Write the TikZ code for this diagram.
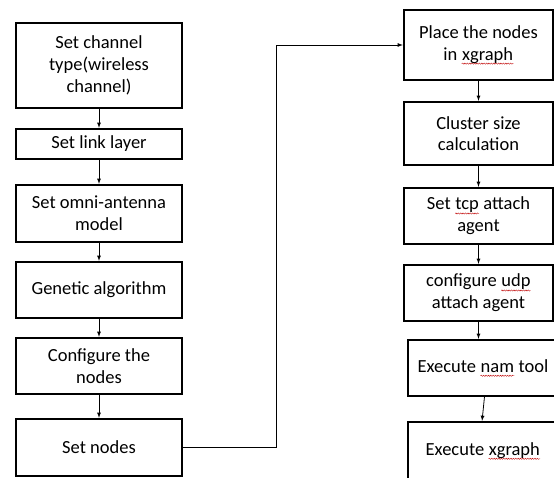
\documentclass[tikz,border=0pt]{standalone}
\usepackage{fontspec}
\setmainfont{Carlito}
\usepackage{xcolor}
\usepackage{tikz}
\usetikzlibrary{calc,decorations.pathmorphing}

% red wavy spell-check mark under a word
\newcommand{\spellmark}[1]{\tikz[baseline=(w.base), x=1pt, y=1pt]{%
		\node[draw=none, inner sep=0pt, minimum width=0pt, minimum height=0pt] (w) {#1};
		\draw[red!75!black, line width=0.4pt, decorate,
			decoration={snake, amplitude=0.6pt, segment length=2.4pt}]
			($(w.base west)+(0,-3.5)$) -- ($(w.base east)+(0,-3.5)$);}}

\begin{document}
\begin{tikzpicture}[
			x=1pt, y=-1pt, >=latex,
			box/.style={draw, line width=1.3pt, align=center, inner sep=0pt,
				font=\fontsize{18.5}{21.7}\selectfont},
			leftbox/.style={box, minimum width=166pt},
			rightbox/.style={box, minimum width=149pt},
			arrow/.style={->, line width=0.8pt, shorten >=0.5pt}
			]
			\useasboundingbox (0,0) rectangle (554,477);
			
			% left column
			\node[leftbox, minimum height=85pt] (chan)  at (99,65.5) {Set channel\\type(wireless\\channel)};
			\node[leftbox, minimum height=30pt] (link)  at (99,144)  {Set link layer};
			\node[leftbox, minimum height=57pt] (omni)  at (99,213.5) {Set omni-antenna\\model};
			\node[leftbox, minimum height=56pt] (gen)   at (99,290)  {Genetic algorithm};
			\node[leftbox, minimum height=56pt] (conf)  at (99,366)  {Configure the\\nodes};
			\node[leftbox, minimum height=57pt] (setn)  at (99,447.5) {Set nodes};
			
			% right column
			\node[rightbox, minimum height=70pt] (place) at (478.5,45)  {Place the nodes\\in \spellmark{xgraph}};
			\node[rightbox, minimum height=63pt] (clus)  at (478.5,133.5) {Cluster size\\calculation};
			\node[rightbox, minimum height=56pt] (tcp)   at (478.5,216)  {Set \spellmark{tcp} attach\\agent};
			\node[rightbox, minimum height=56pt] (udp)   at (478.5,293)  {configure \spellmark{udp}\\attach agent};
			\node[rightbox, minimum height=56pt, minimum width=150pt] (nam) at (483,368) {Execute \spellmark{nam} tool};
			\node[rightbox, minimum height=58pt, minimum width=150pt] (xgr) at (483,451) {Execute \spellmark{xgraph}};
			
			% arrows down the left column
			\draw[arrow] (chan) -- (link);
			\draw[arrow] (link) -- (omni);
			\draw[arrow] (omni) -- (gen);
			\draw[arrow] (gen)  -- (conf);
			\draw[arrow] (conf) -- (setn);
			
			% jump to the right column
			\draw[arrow] (setn.east) -- ++(94,0) |- (place.west);
			
			% arrows down the right column
			\draw[arrow] (place.south -| clus.north) -- (clus.north);
			\draw[arrow] (clus) -- (tcp);
			\draw[arrow] (tcp)  -- (udp);
			\draw[arrow] (udp.south) -- (udp.south |- nam.north);
			\draw[arrow] ($(nam.south)+(1.5,0)$) -- ($(xgr.north)+(-1,0)$);
			
		\end{tikzpicture}
\end{document}
